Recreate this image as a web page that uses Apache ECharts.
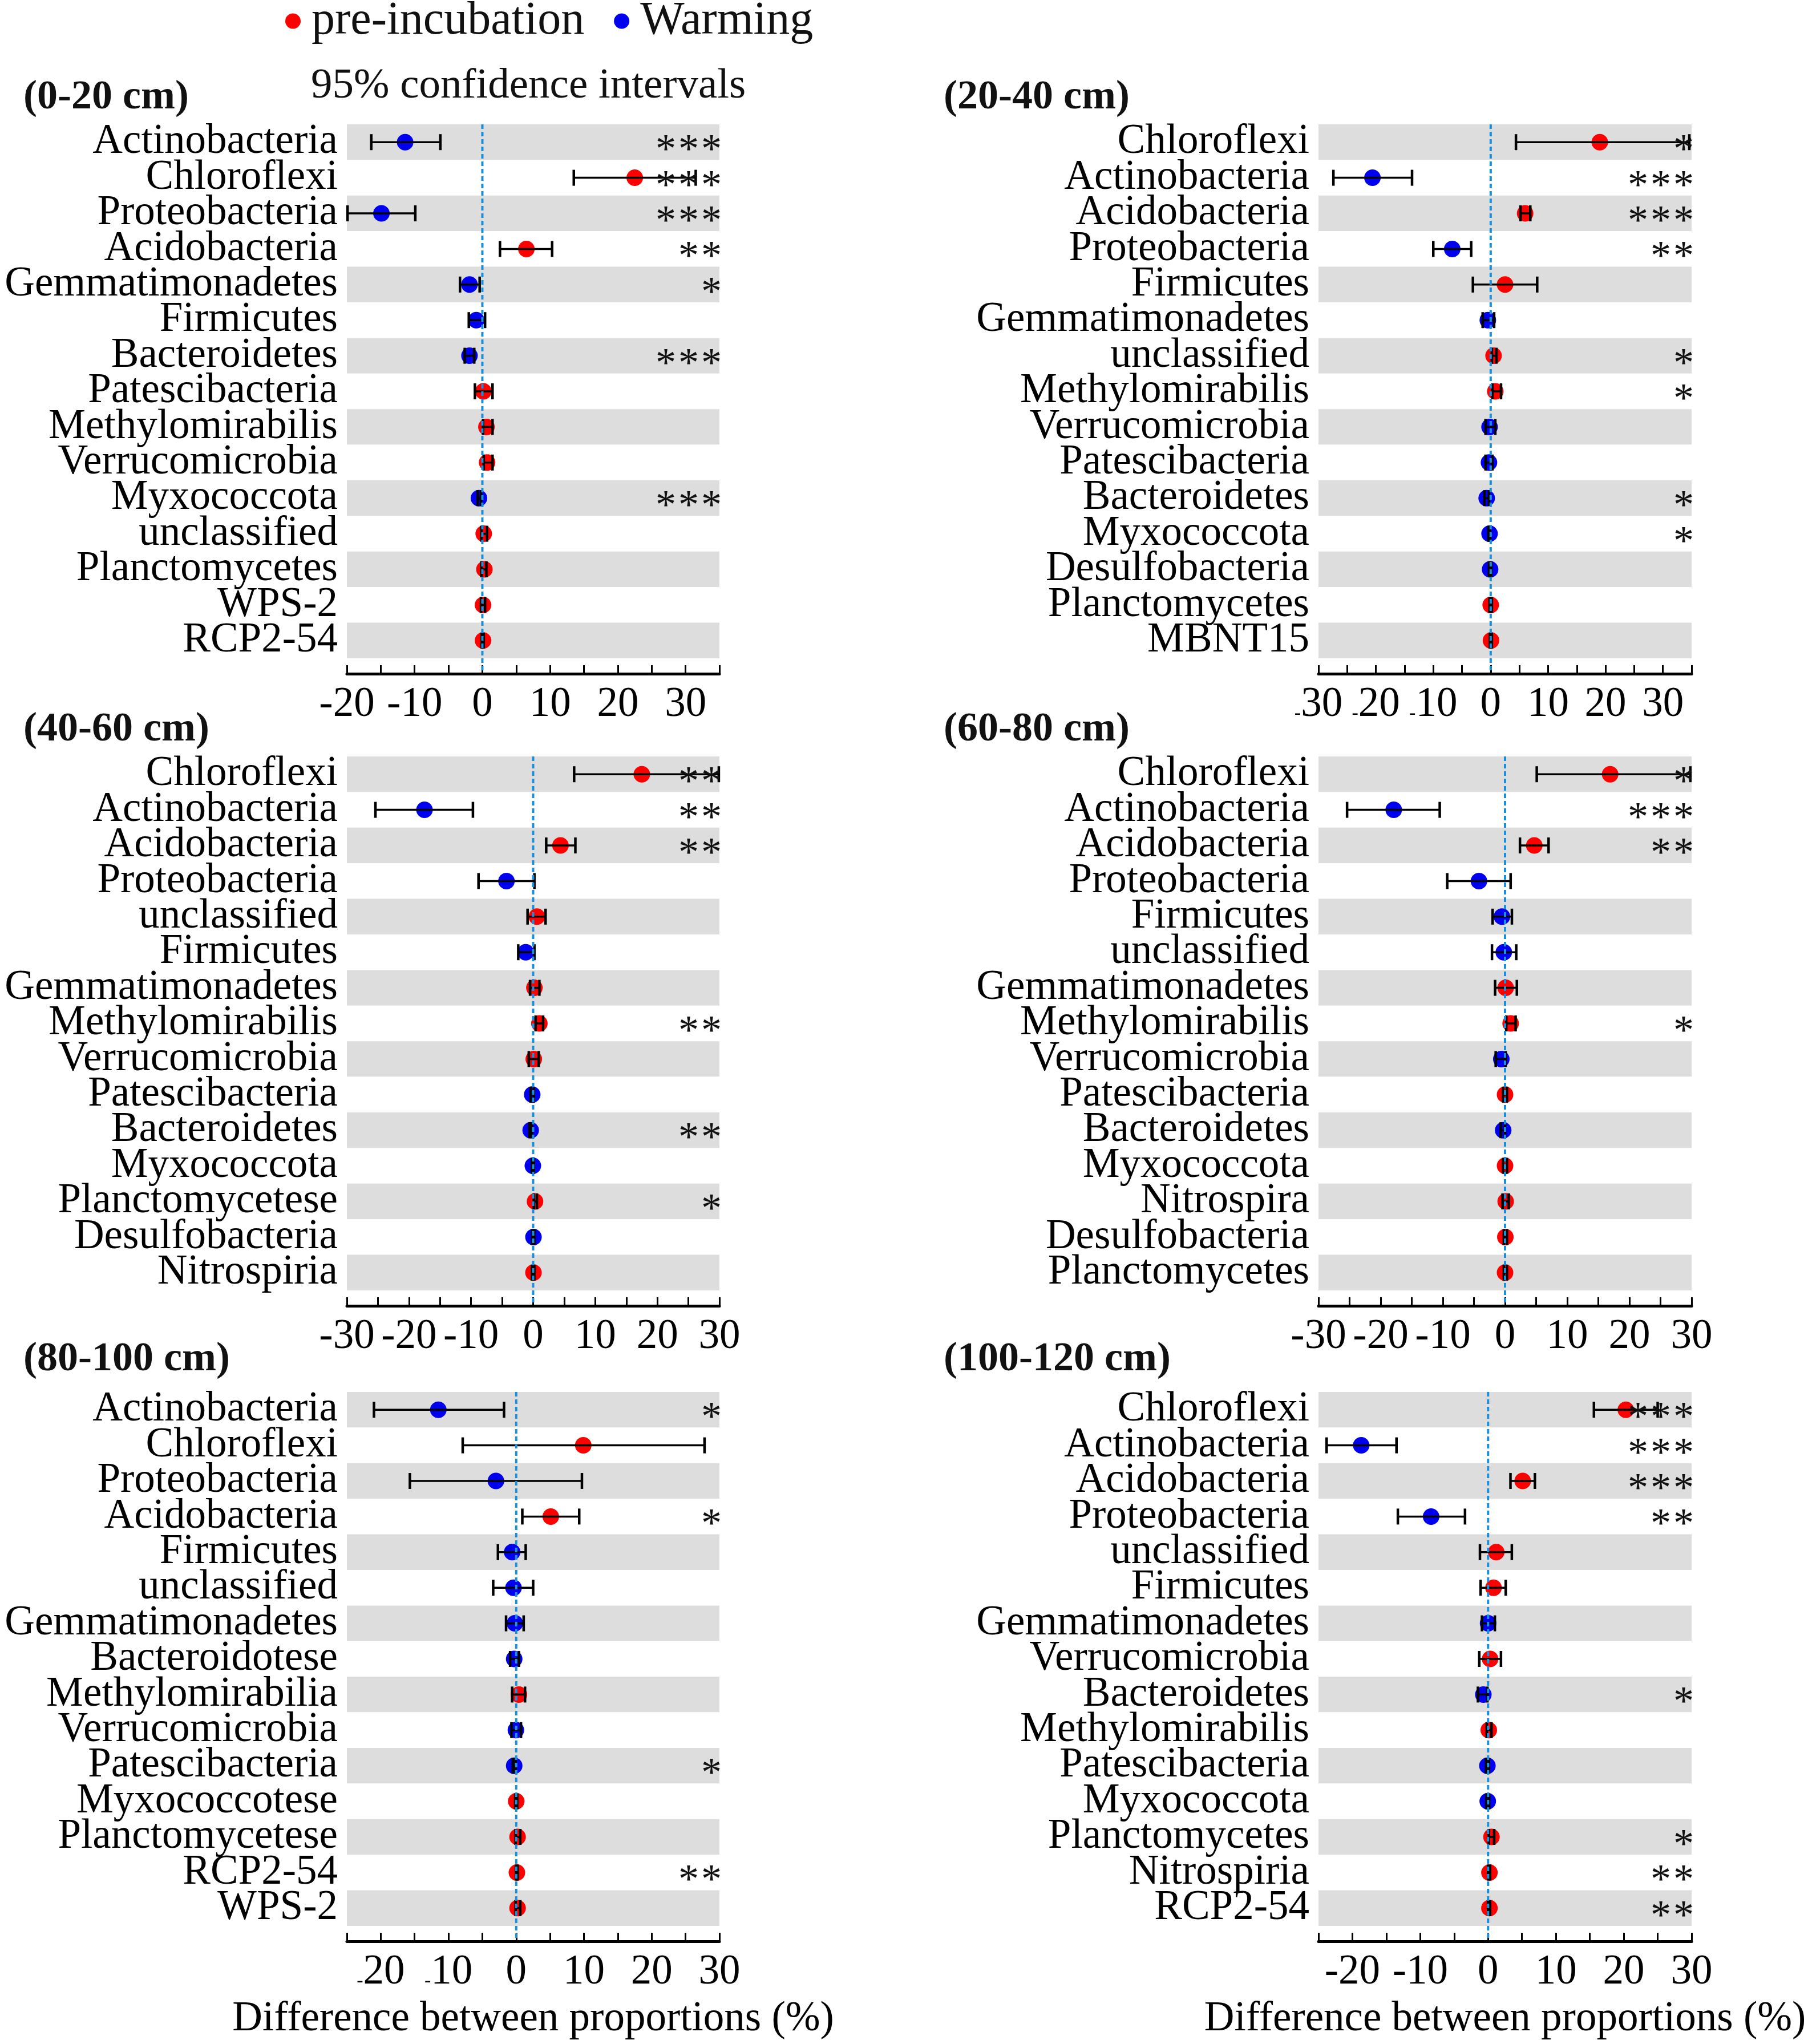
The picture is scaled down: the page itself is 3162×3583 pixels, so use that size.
<!DOCTYPE html>
<html><head><meta charset="utf-8">
<script src="https://cdn.jsdelivr.net/npm/echarts@6/dist/echarts.min.js"></script>
<style>html,body{margin:0;padding:0;background:#fff}#c{width:3162px;height:3583px}</style>
</head><body><div id="c"></div><script>
// ---------- data ----------
const seriesNames = ['pre-incubation', 'Warming'];
const tickLabels = [-30, -20, -10, 0, 10, 20, 30];
const titles = ['(0-20 cm)', '(20-40 cm)', '(40-60 cm)', '(60-80 cm)', '(80-100 cm)', '(100-120 cm)'];
const xAxisTitle = 'Difference between proportions (%)';
const ciText = '95% confidence intervals';

const taxa1 = ['Actinobacteria','Chloroflexi','Proteobacteria','Acidobacteria','Gemmatimonadetes','Firmicutes','Bacteroidetes','Patescibacteria','Methylomirabilis','Verrucomicrobia','Myxococcota','unclassified','Planctomycetes','WPS-2','RCP2-54'];
const diff1 = [-11.4, 22.5, -14.9, 6.5, -1.9, -0.9, -1.9, 0.15, 0.6, 0.7, -0.5, 0.2, 0.3, 0.1, 0.1];
const low1  = [-16.4, 13.5, -19.9, 2.6, -3.3, -2.0, -2.6, -1.1, 0.1, 0.2, -0.7, -0.15, -0.15, -0.2, -0.1];
const high1 = [-6.2, 31.5, -9.9, 10.3, -0.4, 0.4, -1.2, 1.5, 1.5, 1.5, -0.2, 0.7, 0.6, 0.4, 0.2];
const group1 = ['W','P','W','P','W','W','W','P','P','P','W','P','P','P','P'];
const sig1 = ['***','***','***','**','*','','***','','','','***','','','',''];
const range1 = [-20, 35];

const taxa2 = ['Chloroflexi','Actinobacteria','Acidobacteria','Proteobacteria','Firmicutes','Gemmatimonadetes','unclassified','Methylomirabilis','Verrucomicrobia','Patescibacteria','Bacteroidetes','Myxococcota','Desulfobacteria','Planctomycetes','MBNT15'];
const diff2 = [19.0, -20.6, 6.0, -6.7, 2.5, -0.5, 0.5, 0.8, -0.2, -0.3, -0.7, -0.2, -0.1, 0.0, 0.05];
const low2  = [4.4, -27.4, 5.2, -10.0, -3.1, -1.4, 0.2, 0.3, -0.9, -0.9, -1.1, -0.4, -0.3, -0.2, -0.15];
const high2 = [34.6, -13.7, 6.9, -3.4, 8.1, 0.6, 1.0, 1.8, 0.8, 0.3, -0.3, -0.1, 0.1, 0.2, 0.2];
const group2 = ['P','W','P','W','P','W','P','P','W','W','W','W','W','P','P'];
const sig2 = ['*','***','***','**','','','*','*','','','*','*','','',''];
const range2 = [-30, 35];

const taxa3 = ['Chloroflexi','Actinobacteria','Acidobacteria','Proteobacteria','unclassified','Firmicutes','Gemmatimonadetes','Methylomirabilis','Verrucomicrobia','Patescibacteria','Bacteroidetes','Myxococcota','Planctomycetese','Desulfobacteria','Nitrospiria'];
const diff3 = [17.5, -17.5, 4.4, -4.3, 0.6, -1.2, 0.2, 1.0, 0.1, -0.15, -0.4, -0.05, 0.3, 0.05, 0.05];
const low3  = [6.6, -25.4, 2.1, -8.8, -0.9, -2.4, -0.5, 0.4, -0.7, -0.4, -0.6, -0.2, 0.1, -0.15, -0.2];
const high3 = [29.9, -9.7, 6.8, 0.2, 2.0, 0.2, 1.0, 1.6, 0.9, 0.1, -0.2, 0.1, 0.6, 0.2, 0.2];
const group3 = ['P','W','P','W','P','W','P','P','P','W','W','W','P','W','P'];
const sig3 = ['**','**','**','','','','','**','','','**','','*','',''];
const range3 = [-30, 30];

const taxa4 = ['Chloroflexi','Actinobacteria','Acidobacteria','Proteobacteria','Firmicutes','unclassified','Gemmatimonadetes','Methylomirabilis','Verrucomicrobia','Patescibacteria','Bacteroidetes','Myxococcota','Nitrospira','Desulfobacteria','Planctomycetes'];
const diff4 = [16.9, -17.9, 4.7, -4.2, -0.5, -0.2, 0.1, 0.9, -0.6, 0.0, -0.3, 0.0, 0.1, 0.05, 0.0];
const low4  = [5.1, -25.4, 2.4, -9.3, -2.0, -2.1, -1.6, 0.2, -1.5, -0.3, -0.7, -0.3, -0.4, -0.2, -0.2];
const high4 = [29.8, -10.5, 7.0, 0.9, 1.1, 1.8, 1.9, 1.7, 0.1, 0.3, 0.0, 0.3, 0.6, 0.3, 0.3];
const group4 = ['P','W','P','W','W','W','P','P','W','P','W','P','P','P','P'];
const sig4 = ['*','***','**','','','','','*','','','','','','',''];
const range4 = [-30, 30];

const taxa5 = ['Actinobacteria','Chloroflexi','Proteobacteria','Acidobacteria','Firmicutes','unclassified','Gemmatimonadetes','Bacteroidotese','Methylomirabilia','Verrucomicrobia','Patescibacteria','Myxococcotese','Planctomycetese','RCP2-54','WPS-2'];
const diff5 = [-11.5, 9.9, -3.0, 5.1, -0.6, -0.4, -0.2, -0.3, 0.4, -0.05, -0.3, 0.0, 0.2, 0.1, 0.2];
const low5  = [-21.0, -7.9, -15.7, 0.9, -2.7, -3.4, -1.5, -0.9, -0.6, -0.7, -0.5, -0.15, -0.1, -0.05, -0.1];
const high5 = [-1.8, 27.8, 9.7, 9.3, 1.4, 2.5, 1.1, 0.4, 1.3, 0.7, -0.1, 0.15, 0.6, 0.2, 0.6];
const group5 = ['W','P','W','P','W','W','W','W','P','W','W','P','P','P','P'];
const sig5 = ['*','','','*','','','','','','','*','','','**',''];
const range5 = [-25, 30];

const taxa6 = ['Chloroflexi','Actinobacteria','Acidobacteria','Proteobacteria','unclassified','Firmicutes','Gemmatimonadetes','Verrucomicrobia','Bacteroidetes','Methylomirabilis','Patescibacteria','Myxococcota','Planctomycetes','Nitrospiria','RCP2-54'];
const diff6 = [20.3, -18.7, 5.1, -8.4, 1.2, 0.8, 0.0, 0.3, -0.7, 0.1, -0.1, -0.05, 0.5, 0.2, 0.2];
const low6  = [15.6, -23.8, 3.3, -13.3, -1.2, -1.1, -0.9, -1.3, -1.5, -0.2, -0.3, -0.25, 0.1, 0.0, 0.0];
const high6 = [25.0, -13.5, 6.9, -3.4, 3.5, 2.6, 1.0, 1.9, -0.1, 0.5, 0.1, 0.15, 0.9, 0.3, 0.3];
const group6 = ['P','W','P','W','P','P','W','P','W','P','W','W','P','P','P'];
const sig6 = ['***','***','***','**','','','','','*','','','','*','**','**'];
const range6 = [-25, 30];

// ---------- build ----------
const FONT = "'Liberation Serif','Times New Roman',serif";
const RED = '#ff0000', BLUE = '#0000f0', ZERO = '#1a90dc';
const panels = [
  {taxa: taxa1, diff: diff1, low: low1, high: high1, group: group1, sig: sig1, range: range1},
  {taxa: taxa2, diff: diff2, low: low2, high: high2, group: group2, sig: sig2, range: range2},
  {taxa: taxa3, diff: diff3, low: low3, high: high3, group: group3, sig: sig3, range: range3},
  {taxa: taxa4, diff: diff4, low: low4, high: high4, group: group4, sig: sig4, range: range4},
  {taxa: taxa5, diff: diff5, low: low5, high: high5, group: group5, sig: sig5, range: range5},
  {taxa: taxa6, diff: diff6, low: low6, high: high6, group: group6, sig: sig6, range: range6}
];
// panels whose printed minus signs are tiny in the original figure
const smallMinus = [false, true, false, false, true, false];
const gridLeft = [608, 2311], gridWidth = [653, 654];
const gridTop = [218, 1326, 2440], gridHeight = 936;
const titleX = [41, 1654], titleY = [171, 1279, 2383];

const grids = [], xAxes = [], yAxes = [], series = [], graphics = [];

panels.forEach((p, i) => {
  const col = i % 2, row = Math.floor(i / 2);
  grids.push({left: gridLeft[col], top: gridTop[row], width: gridWidth[col], height: gridHeight,
    containLabel: false, outerBoundsMode: 'none'});
  const sm = smallMinus[i];
  xAxes.push({
    gridIndex: i, type: 'value', min: p.range[0], max: p.range[1], interval: 5,
    offset: 27,
    axisLine: {show: true, onZero: false, lineStyle: {color: '#000', width: 5}},
    axisTick: {show: true, inside: true, length: 15, lineStyle: {color: '#000', width: 3}},
    axisLabel: {show: true, fontSize: 73, color: '#000', fontFamily: FONT, margin: 18,
      showMinLabel: true, showMaxLabel: true,
      formatter: v => {
        if (tickLabels.indexOf(v) < 0) return '';
        if (sm && v < 0) return '{m|-}{n|' + Math.abs(v) + '}';
        return '{n|' + v + '}';
      },
      rich: {
        m: {fontSize: 34, fontFamily: FONT, color: '#000', verticalAlign: 'bottom', padding: [0, 0, 4, 0]},
        n: {fontSize: 73, fontFamily: FONT, color: '#000'}
      }},
    splitLine: {show: false},
    name: row === 2 ? xAxisTitle : '', nameLocation: 'middle', nameGap: 100,
    nameTextStyle: {fontSize: 73, color: '#000', fontFamily: FONT, verticalAlign: 'top'}
  });
  yAxes.push({
    gridIndex: i, type: 'category', data: p.taxa, inverse: true,
    axisLine: {show: false}, axisTick: {show: false},
    axisLabel: {fontSize: 73, color: '#000', fontFamily: FONT, margin: 16, interval: 0},
    splitLine: {show: false},
    splitArea: {show: true, interval: 0, areaStyle: {color: ['#dddddd', '#ffffff']}}
  });
  ['P', 'W'].forEach((g, gi) => {
    const data = [];
    p.diff.forEach((d, k) => { if (p.group[k] === g) data.push([d, k]); });
    series.push({
      type: 'scatter', name: seriesNames[gi], xAxisIndex: i, yAxisIndex: i,
      data: data, symbol: 'circle', symbolSize: 29, z: 2,
      itemStyle: {color: gi === 0 ? RED : BLUE, opacity: 1}
    });
  });
  series.push({
    type: 'custom', xAxisIndex: i, yAxisIndex: i, z: 3,
    data: p.low.map((l, k) => [l, p.high[k], k]),
    encode: {x: [0, 1], y: 2},
    renderItem: (params, api) => {
      const a = api.coord([api.value(0), api.value(2)]);
      const b = api.coord([api.value(1), api.value(2)]);
      const y = a[1], h = 14;
      return {type: 'group', children: [
        {type: 'line', shape: {x1: a[0], y1: y, x2: b[0], y2: y}, style: {stroke: '#000', lineWidth: 3.5}},
        {type: 'line', shape: {x1: a[0], y1: y - h, x2: a[0], y2: y + h}, style: {stroke: '#000', lineWidth: 4.5}},
        {type: 'line', shape: {x1: b[0], y1: y - h, x2: b[0], y2: y + h}, style: {stroke: '#000', lineWidth: 4.5}}
      ]};
    }
  });
  series.push({
    type: 'custom', xAxisIndex: i, yAxisIndex: i, z: 4, clip: false,
    data: [[0, 0]], encode: {x: 0, y: 1},
    renderItem: (params, api) => {
      const pt = api.coord([api.value(0), api.value(1)]);
      const cs = params.coordSys;
      return {type: 'line', shape: {x1: pt[0], y1: cs.y, x2: pt[0], y2: cs.y + cs.height + 25},
        style: {stroke: ZERO, lineWidth: 4, lineDash: [8, 5]}};
    }
  });
  const starData = [];
  p.sig.forEach((s, k) => { if (s.length) starData.push([p.range[1], k, s.length]); });
  series.push({
    type: 'custom', xAxisIndex: i, yAxisIndex: i, z: 5, clip: false,
    data: starData, encode: {x: 0, y: 1},
    renderItem: (params, api) => {
      const pt = api.coord([api.value(0), api.value(1)]);
      const n = api.value(2);
      const ch = [];
      for (let k = 0; k < n; k++) {
        ch.push({type: 'text', style: {text: '*', x: pt[0] - 14 - k * 40, y: pt[1] + 16,
          align: 'center', verticalAlign: 'middle', font: '72px ' + FONT, fill: '#111'}});
      }
      return {type: 'group', children: ch};
    }
  });
  graphics.push({type: 'text', left: titleX[col], top: titleY[row] - 36,
    style: {text: titles[i], font: 'bold 72px ' + FONT, fill: '#111'}});
});

graphics.push({type: 'text', left: 545, top: 114,
  style: {text: ciText, font: '75px ' + FONT, fill: '#111'}});

const chart = echarts.init(document.getElementById('c'), null, {renderer: 'canvas'});
chart.setOption({
  backgroundColor: '#ffffff',
  animation: false,
  textStyle: {fontFamily: FONT},
  legend: {
    data: seriesNames, left: 500, top: -4, padding: 0, icon: 'circle', itemWidth: 27, itemHeight: 27, itemGap: 52,
    textStyle: {fontSize: 82, color: '#111', fontFamily: FONT, padding: [0, 0, 0, 14]}
  },
  grid: grids, xAxis: xAxes, yAxis: yAxes, series: series, graphic: graphics
});
</script></body></html>
